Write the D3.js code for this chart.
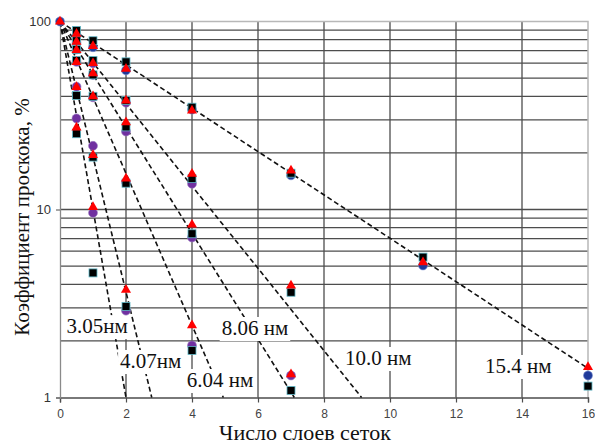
<!DOCTYPE html>
<html><head><meta charset="utf-8">
<script src="https://cdn.jsdelivr.net/npm/d3@7"></script>
<style>
html,body{margin:0;padding:0;background:#fff;}
svg{display:block;}
</style>
</head><body>
<script>
// ---- data ----
const sizeLabels = ["3.05нм", "4.07нм", "6.04 нм", "8.06 нм", "10.0 нм", "15.4 нм"];
// fitted exponential lines: all start at (0,100) and end at (fitEndX, fitEndY)
const fitEndX = [2.0, 2.78, 4.95, 7.1, 9.14, 16];
const fitEndY = [1, 1, 1, 1, 1, 1.43];
// label anchors (data units: left x, baseline y)
const labelAtX = [0.2, 1.82, 3.84, 4.9, 8.64, 12.88];
const labelAtY = [2.2, 1.435, 1.137, 2.15, 1.489, 1.35];

const xTicks = [0, 2, 4, 6, 8, 10, 12, 14, 16];
const yTicks = [1, 10, 100];

// black squares
const sqX = [0.5, 0.5, 0.5, 0.5, 0.5, 0.5, 1, 1, 1, 1, 1, 1, 2, 2, 2, 2, 2, 4, 4, 4, 4, 7, 7, 7, 11, 16];
const sqY = [89.6, 79, 71, 62, 40.4, 25.3, 79, 62, 52, 40, 19, 4.6, 61, 38, 27.5, 13.8, 3.05, 35, 14.6, 7.43, 1.78, 15.6, 3.63, 1.09, 5.58, 1.15];
// red triangles
const triX = [0, 0.5, 0.5, 0.5, 0.5, 0.5, 0.5, 1, 1, 1, 1, 1, 1, 2, 2, 2, 2, 2, 4, 4, 4, 4, 7, 7, 7, 11, 16];
const triY = [100, 86, 78, 70.5, 60.8, 44.8, 27.3, 74, 60, 53, 40, 19.5, 10.3, 56, 38, 29.1, 14.6, 3.74, 33.6, 15.5, 8.3, 2.42, 16.1, 3.94, 1.33, 5.24, 1.45];
// purple circles
const purX = [0.5, 0.5, 0.5, 0.5, 0.5, 1, 1, 1, 1, 1, 2, 2, 2, 2, 4, 4, 4, 7];
const purY = [77, 71, 61, 45, 30.5, 60, 52, 39.5, 21.8, 9.6, 37, 26, 14, 2.9, 13.7, 7.1, 1.89, 1.31];
// blue circles
const bluX = [0, 0.5, 1, 2, 4, 7, 11, 16];
const bluY = [100, 84.3, 73, 55, 34, 15.2, 5.04, 1.31];

// ---- chart ----
const W = 595, H = 445;
const svg = d3.select("body").append("svg").attr("width", W).attr("height", H);
const x = d3.scaleLinear().domain([0, 16]).range([60, 588]);
const y = d3.scaleLog().domain([1, 100]).range([397.5, 21.5]);

const gridY = [];
for (let d = 1; d < 100; d *= 10) for (let k = 1; k < 10; k++) gridY.push(k * d);
gridY.push(100);

// horizontal grid
svg.append("g").selectAll("line").data(gridY.filter(v => v > 1 && v < 100)).join("line")
  .attr("x1", x(0)).attr("x2", x(16)).attr("y1", d => y(d)).attr("y2", d => y(d))
  .attr("stroke", "#4d4d4d").attr("stroke-width", 1.3);
// vertical grid
svg.append("g").selectAll("line").data(xTicks.filter(v => v > 0 && v < 16)).join("line")
  .attr("x1", d => x(d)).attr("x2", d => x(d)).attr("y1", y(100)).attr("y2", y(1))
  .attr("stroke", "#4d4d4d").attr("stroke-width", 1.3);
// plot border top/right (light)
svg.append("path").attr("d", `M${x(0)},${y(100)}H${x(16)}V${y(1)}`)
  .attr("fill", "none").attr("stroke", "#b8b8b8").attr("stroke-width", 1.5);

// axes
const xAxis = d3.axisBottom(x).tickValues(xTicks).tickSize(5).tickFormat(d3.format("d"));
const gx = svg.append("g").attr("transform", `translate(0,${y(1)})`).call(xAxis);
gx.select(".domain").attr("stroke", "#4d4d4d").attr("stroke-width", 1.3);
gx.selectAll(".tick line").attr("stroke", "#4d4d4d").attr("stroke-width", 1.2);
gx.selectAll(".tick text").attr("font-family", "Liberation Sans, Arial, sans-serif")
  .attr("font-size", 12).attr("fill", "#444").attr("dy", "1.05em");

const yAxis = d3.axisLeft(y).tickValues(yTicks).tickSize(4).tickFormat(d3.format("d"));
const gy = svg.append("g").attr("transform", `translate(${x(0)},0)`).call(yAxis);
gy.select(".domain").attr("stroke", "#8a8a8a").attr("stroke-width", 1.3);
gy.selectAll(".tick line").attr("stroke", "#6a6a6a").attr("stroke-width", 1.2);
gy.selectAll(".tick text").attr("font-family", "Liberation Sans, Arial, sans-serif")
  .attr("font-size", 13).attr("fill", "#333").attr("x", -9);

// fitted dashed lines
const line = d3.line().x(d => x(d[0])).y(d => y(d[1]));
svg.append("g").selectAll("path").data(fitEndX.map((ex, i) => [[0, 100], [ex, fitEndY[i]]])).join("path")
  .attr("d", line).attr("fill", "none").attr("stroke", "#111")
  .attr("stroke-width", 1.6).attr("stroke-dasharray", "5,3");

// labels with white boxes
const lg = svg.append("g");
sizeLabels.forEach((t, i) => {
  const g = lg.append("g");
  const txt = g.append("text").attr("x", x(labelAtX[i])).attr("y", y(labelAtY[i]))
    .attr("font-family", "Liberation Serif, Times New Roman, serif").attr("font-size", 21)
    .attr("fill", "#111").text(t);
  const bb = txt.node().getBBox();
  g.insert("rect", "text").attr("x", bb.x - 2).attr("y", bb.y + 1).attr("width", bb.width + 4)
    .attr("height", bb.height).attr("fill", "#fff");
});

// markers
const pts = (xs, ys) => xs.map((v, i) => [v, ys[i]]);
svg.append("g").selectAll("circle").data(pts(purX, purY)).join("circle")
  .attr("cx", d => x(d[0])).attr("cy", d => y(d[1])).attr("r", 4.5)
  .attr("fill", "#7030a0").attr("stroke", "#9a7cc0").attr("stroke-width", 0.6);
svg.append("g").selectAll("circle").data(pts(bluX, bluY)).join("circle")
  .attr("cx", d => x(d[0])).attr("cy", d => y(d[1])).attr("r", 4.5)
  .attr("fill", "#1f3a9a").attr("stroke", "#7b8fd0").attr("stroke-width", 0.6);
svg.append("g").selectAll("rect").data(pts(sqX, sqY)).join("rect")
  .attr("x", d => x(d[0]) - 4).attr("y", d => y(d[1]) - 4).attr("width", 8).attr("height", 8)
  .attr("fill", "#000").attr("stroke", "#5fb8c8").attr("stroke-width", 0.8);
const tri = d3.symbol().type(d3.symbolTriangle).size(44);
svg.append("g").selectAll("path").data(pts(triX, triY)).join("path")
  .attr("transform", d => `translate(${x(d[0])},${y(d[1])})`).attr("d", tri)
  .attr("fill", "#ff0000");

// axis titles
svg.append("text").attr("transform", `translate(29,217) rotate(-90)`).attr("text-anchor", "middle")
  .attr("font-family", "Liberation Serif, Times New Roman, serif").attr("font-size", 21)
  .attr("fill", "#111").text("Коэффициент проскока, %");
svg.append("text").attr("x", 305).attr("y", 440).attr("text-anchor", "middle")
  .attr("font-family", "Liberation Serif, Times New Roman, serif").attr("font-size", 22)
  .attr("fill", "#111").text("Число слоев сеток");
</script>
</body></html>
